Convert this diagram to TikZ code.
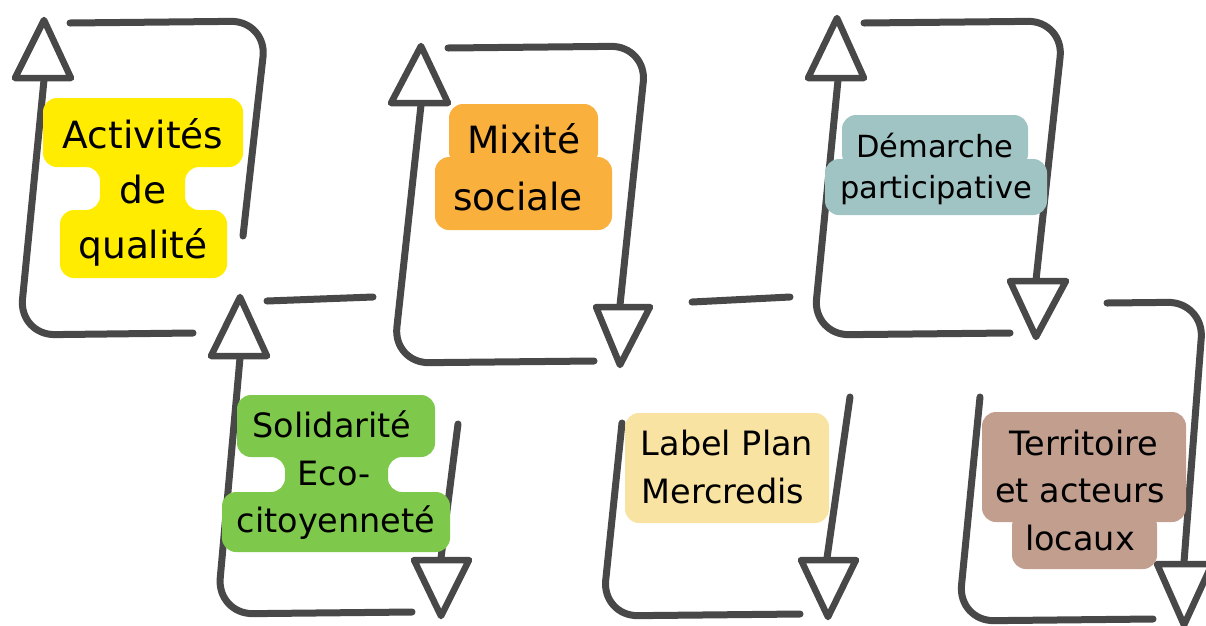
\documentclass[tikz,border=0pt]{standalone}
\usepackage{fontspec}
\setmainfont{DejaVu Sans}

\definecolor{ink}{HTML}{484848}
\definecolor{hlyellow}{HTML}{FFEC00}
\definecolor{hlorange}{HTML}{FAB03C}
\definecolor{hlteal}{HTML}{A0C4C4}
\definecolor{hlgreen}{HTML}{7EC94B}
\definecolor{hlsand}{HTML}{F9E3A2}
\definecolor{hlbrown}{HTML}{C19E8E}

\begin{document}
\begin{tikzpicture}[x=1pt, y=-1pt,
        loop/.style={draw=ink, line width=7pt, line cap=round, rounded corners=36pt},
        head/.style={draw=ink, line width=6.5pt, line join=round, fill=white},
        patch/.style={rounded corners=14pt},
        word/.style={anchor=base, inner sep=0pt, text=black},
        large/.style={word, font=\fontsize{37.5}{45}\selectfont},
        medium/.style={word, font=\fontsize{33.5}{40}\selectfont},
        small/.style={word, font=\fontsize{30.5}{37}\selectfont}
    ]
    \useasboundingbox (0,0) rectangle (1206,625);
    % Loops
    \draw[loop] (44,80) -- (19,335) -- (193,333);
    \draw[loop] (70,23) -- (267,21) -- (243,236);
    \draw[loop] (267,301) -- (373,297);
    \draw[loop] (240,358) -- (217,614) -- (412,612);
    \draw[loop] (458,424) -- (441,558);
    \draw[loop] (421,105) -- (393,363) -- (594,361);
    \draw[loop] (448,48) -- (647,46) -- (620,305);
    \draw[loop] (692,302) -- (790,297);
    \draw[loop] (838,80) -- (813,335) -- (1010,333);
    \draw[loop] (864,23) -- (1064,21) -- (1036,280);
    \draw[loop] (1107,303) -- (1204,302) -- (1184,562);
    \draw[loop] (980,397) -- (958,621) -- (1153,619);
    \draw[loop] (622,423) -- (602,616) -- (800,614);
    \draw[loop] (850,397) -- (827,558);
    % Arrow heads
    \draw[head] (44,20) -- (15,78) -- (71,78) -- cycle;
    \draw[head] (240,297) -- (211,356) -- (267,356) -- cycle;
    \draw[head] (421,46) -- (391,103) -- (448,103) -- cycle;
    \draw[head] (837,18) -- (808,78) -- (864,78) -- cycle;
    \draw[head] (620,365) -- (596,307) -- (650,307) -- cycle;
    \draw[head] (1036,337) -- (1010,281) -- (1066,281) -- cycle;
    \draw[head] (441,616) -- (414,560) -- (469,560) -- cycle;
    \draw[head] (828,617) -- (801,560) -- (856,560) -- cycle;
    \draw[head] (1184,625) -- (1157,564) -- (1212,564) -- cycle;
    % Activités de qualité
    \fill[hlyellow, patch] (43,98) -- (243,98) -- (243,167) -- (185,167) -- (185,210) -- (227,210)
        -- (227,278) -- (60,278) -- (60,210) -- (100,210) -- (100,167) -- (43,167) -- cycle;
    \node[large] (activites) at (143,148) {Activités};
    \node[large] (de) at (143,203) {de};
    \node[large] (qualite) at (143,258) {qualité};
    % Mixité sociale
    \fill[hlorange, patch] (449,104) rectangle (598,166);
    \fill[hlorange, patch] (435,157) rectangle (612,230);
    \node[large] (mixite) at (524,153) {Mixité};
    \node[large] (sociale) at (518,210) {sociale};
    % Démarche participative
    \fill[hlteal, patch] (842,115) rectangle (1028,168);
    \fill[hlteal, patch] (825,159) rectangle (1047,215);
    \node[small] (demarche) at (935,157) {Démarche};
    \node[small] (participative) at (936,198) {participative};
    % Solidarité Eco-citoyenneté
    \fill[hlgreen, patch] (237,395) -- (435,395) -- (435,457) -- (388,457) -- (388,492) -- (450,492)
        -- (450,552) -- (222,552) -- (222,492) -- (285,492) -- (285,457) -- (237,457) -- cycle;
    \node[medium] (solidarite) at (332,437) {Solidarité};
    \node[medium] (eco) at (334,485) {Eco-};
    \node[medium] (citoyennete) at (336,532) {citoyenneté};
    % Label Plan Mercredis
    \fill[hlsand, patch] (625,413) rectangle (829,523);
    \node[medium] (labelplan) at (727,455) {Label Plan};
    \node[medium] (mercredis) at (723,503) {Mercredis};
    % Territoire et acteurs locaux
    \fill[hlbrown, patch] (982,412) rectangle (1186,522);
    \fill[hlbrown, patch] (1012,512) rectangle (1157,569);
    \node[medium] (territoire) at (1084,455) {Territoire};
    \node[medium] (acteurs) at (1080,502) {et acteurs};
    \node[medium] (locaux) at (1080,550) {locaux};
\end{tikzpicture}
\end{document}
